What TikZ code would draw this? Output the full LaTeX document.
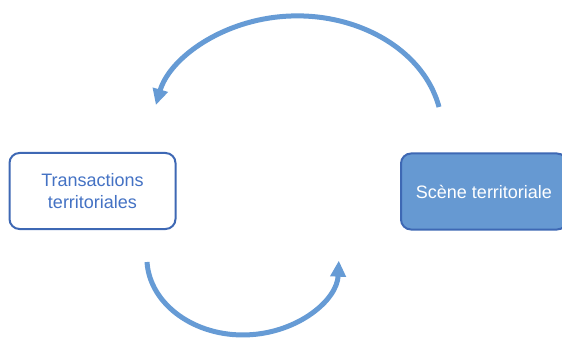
\documentclass[tikz,border=0pt]{standalone}
\usepackage{fontspec}
\setmainfont{Liberation Sans}
\usepackage{tikz}
\usetikzlibrary{positioning}
\usetikzlibrary{arrows.meta}
\definecolor{boxline}{RGB}{62, 104, 180}
\definecolor{boxfill}{RGB}{102, 153, 210}
\definecolor{textblue}{RGB}{68, 114, 196}
\definecolor{arcblue}{RGB}{102, 155, 213}

\begin{document}
\begin{tikzpicture}[x=1pt, y=-1pt,
    boite/.style={draw=boxline, line width=2pt, rounded corners=10pt, align=center,
        minimum width=166pt, minimum height=76pt, font=\fontsize{18}{22}\selectfont},
    fleche/.style={draw=arcblue, line width=5pt, -{Triangle[length=16pt, width=15pt]}}]
    % cadre de la page
    \useasboundingbox (0,0) rectangle (562,339);

    % Boîte blanche à gauche
    \node[boite, fill=white, text=textblue] (transactions) at (92.5,191) {Transactions\\territoriales};
    % Boîte pleine à droite (coupée par le bord)
    \node[boite, fill=boxfill, text=white] (scene) at (484,191.5) {Scène territoriale};

    % Flèche du haut : de la scène vers les transactions
    \coordinate (hautdepart) at (439,107);
    \draw[fleche] (hautdepart) arc[start angle=-12, end angle=-167, x radius=145, y radius=115];

    % Flèche du bas : des transactions vers la scène
    \coordinate (basdepart) at (147,262);
    \draw[fleche] (basdepart) arc[start angle=177, end angle=2, x radius=96, y radius=77];
\end{tikzpicture}
\end{document}
